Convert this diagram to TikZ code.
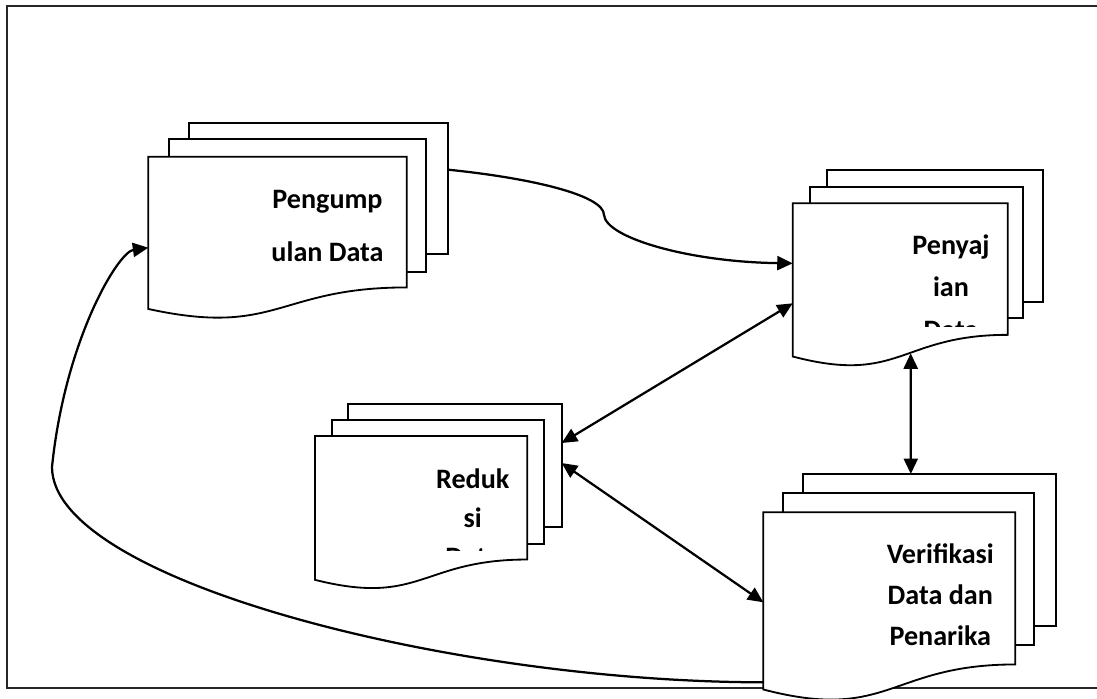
\documentclass[tikz,border=0pt]{standalone}
\usepackage{fontspec}
\setmainfont{Carlito}
\usetikzlibrary{arrows.meta}
\usetikzlibrary{calc}
\usetikzlibrary{fit}

\tikzset{
  docPage/.style={draw, fill=white, line width=1.3pt, inner sep=0pt, outer sep=0pt},
  docArea/.style={inner sep=0pt, outer sep=0pt},
  docText/.style={text width=5cm, align=flush center, anchor=base, inner sep=0pt},
  flowOne/.style={line width=1.6pt, -{Triangle[length=11pt,width=10pt]}},
  flowTwo/.style={line width=1.6pt, {Triangle[length=11pt,width=10pt]}-{Triangle[length=11pt,width=10pt]}},
}
% front sheet with the wavy bottom edge
\newcommand{\docFront}[1]{%
  \draw[docPage] (#1.north west) -- (#1.north east)
    -- ($(#1.north east)!0.802!(#1.south east)$)
    .. controls ($(#1.north)!0.802!(#1.south)$) and ($(#1.north)!1.1075!(#1.south)$)
    .. ($(#1.north west)!0.934!(#1.south west)$) -- cycle;}

\begin{document}
\begin{tikzpicture}[x=0.025cm, y=-0.025cm]
  \useasboundingbox (0,0) rectangle (1097,698);
  % frame
  \draw[line width=1.5pt, black!85] (7,6) rectangle (1110,688);

  %% documents
  % pengumpulan data
  \node[docPage, fit={(189.3,122.7) (448.3,254.3)}] (pengumpulan-back) {};
  \node[docPage, fit={(169.3,139.3) (426,271.7)}] (pengumpulan-mid) {};
  \node[docArea, fit={(148.3,156.7) (406.7,319.7)}] (pengumpulan) {};
  \docFront{pengumpulan}
  \node[docText, font={\bfseries\fontsize{20}{37.9}\selectfont}] (pengumpulan-text) at (327.5,208.3) {Pengump\\ulan Data};

  % penyajian data
  \node[docPage, fit={(826.7,170) (1042.7,301.7)}] (penyajian-back) {};
  \node[docPage, fit={(810,186.7) (1023.3,318.3)}] (penyajian-mid) {};
  \node[docArea, fit={(792.7,203.3) (1007.7,367.3)}] (penyajian) {};
  \docFront{penyajian}
  \begin{scope}
    \clip (penyajian.north west) rectangle ($(penyajian.north east)+(0,123)$);
    \node[docText, font={\bfseries\fontsize{20}{30.3}\selectfont}] (penyajian-text) at (951,254) {Penyaj\\ian\\Data};
  \end{scope}

  % reduksi data
  \node[docPage, fit={(348.3,404) (561.7,527.3)}] (reduksi-back) {};
  \node[docPage, fit={(332.3,420) (544,544)}] (reduksi-mid) {};
  \node[docArea, fit={(315,436) (527.3,590)}] (reduksi) {};
  \docFront{reduksi}
  \begin{scope}
    \clip (reduksi.north west) rectangle ($(reduksi.north east)+(0,114)$);
    \node[docText, font={\bfseries\fontsize{20}{27.9}\selectfont}] (reduksi-text) at (472.7,488.3) {Reduk\\si\\Data};
  \end{scope}

  % verifikasi data
  \node[docPage, fit={(803.3,474) (1055.7,625.7)}] (verifikasi-back) {};
  \node[docPage, fit={(783.3,493.3) (1034,645)}] (verifikasi-mid) {};
  \node[docArea, fit={(763.3,512.3) (1015.3,702)}] (verifikasi) {};
  \docFront{verifikasi}
  \node[docText, font={\bfseries\fontsize{20}{29.1}\selectfont}] (verifikasi-text) at (940.3,563.3) {Verifikasi\\Data dan\\Penarika};

  %% connectors
  \draw[flowOne] ($(pengumpulan-back.north east)+(0,47)$)
    .. controls (530,178) and (604,195) .. (604,215)
    .. controls (606,238) and (690,262) .. ($(penyajian.north west)+(0,60)$);
  \draw[flowTwo] ($(penyajian.north west)+(0,100)$) -- ($(reduksi-back.north east)+(0,39)$);
  \draw[flowTwo] ($(reduksi-back.north east)+(0,59)$) -- ($(verifikasi.north west)+(0,90)$);
  \draw[flowTwo] ($(penyajian.north west)+(118,150)$) -- ($(verifikasi-back.north west)+(107.5,0)$);
  \draw[flowOne] ($(verifikasi.north west)+(0,170)$)
    .. controls (450,682) and (52,580) .. (52,467)
    .. controls (65,340) and (118,252) .. ($(pengumpulan.north west)+(0,91)$);
\end{tikzpicture}
\end{document}
